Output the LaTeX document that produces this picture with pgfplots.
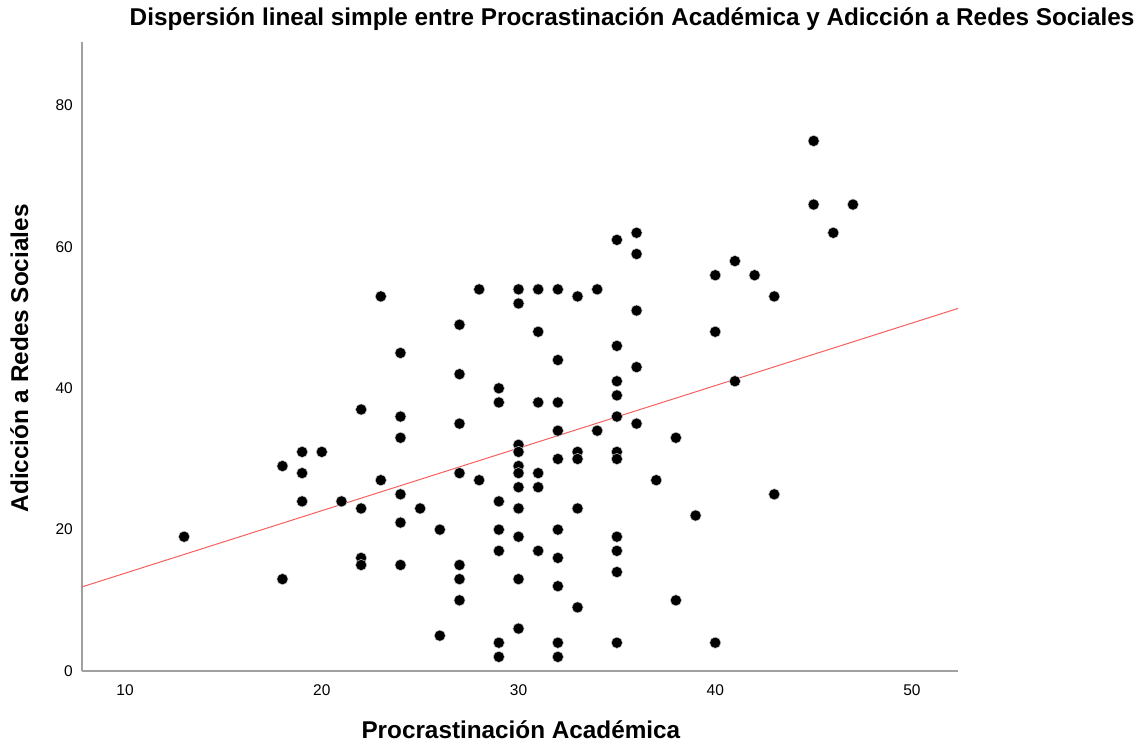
\documentclass[border=0pt]{standalone}
\usepackage{pgfplots}
\pgfplotsset{compat=1.18}
\usepackage{pgfplotstable}
\usepackage{fontspec}
\setmainfont{Liberation Sans}
\definecolor{axisgray}{RGB}{160,160,160}
\definecolor{fitred}{RGB}{245,95,95}
\pgfplotstableread{
x y
13 19
18 29
18 13
19 31
19 28
19 24
20 31
21 24
22 37
22 23
22 16
22 15
23 53
23 27
24 45
24 36
24 33
24 25
24 21
24 15
25 23
26 20
26 5
27 49
27 42
27 35
27 28
27 15
27 13
27 10
28 54
28 27
29 40
29 38
29 24
29 20
29 17
29 4
29 2
30 54
30 52
30 32
30 31
30 29
30 28
30 26
30 23
30 19
30 13
30 6
31 54
31 48
31 38
31 28
31 26
31 17
32 54
32 44
32 38
32 34
32 30
32 20
32 16
32 12
32 4
32 2
33 53
33 31
33 30
33 23
33 9
34 54
34 34
35 61
35 46
35 41
35 39
35 36
35 31
35 30
35 19
35 17
35 14
35 4
36 62
36 59
36 51
36 43
36 35
37 27
38 33
38 10
39 22
40 56
40 48
40 4
41 58
41 41
42 56
43 53
43 25
45 75
45 66
46 62
47 66
}\pts
\pgfplotstableread{
x y
7.81 11.9
52.34 51.3
}\fitline
\begin{document}
\begin{tikzpicture}
\useasboundingbox (0,0) rectangle (1145pt,744pt);
\begin{axis}[
  at={(82pt,73pt)}, anchor=south west,
  scale only axis, width=876pt, height=629pt,
  xmin=7.81, xmax=52.34, ymin=0, ymax=89,
  axis x line*=bottom, axis y line*=left,
  axis line style={axisgray, line width=1.4pt, -},
  xtick={10,20,30,40,50}, ytick={0,20,40,60,80},
  major tick length=0pt,
  /pgf/number format/assume math mode=true,
  tick label style={font=\fontsize{15.5}{17}\selectfont, inner sep=0pt},
  xticklabel style={anchor=center, yshift=-19pt},
  yticklabel style={anchor=east, xshift=-9pt},
  title={Dispersión lineal simple entre Procrastinación Académica y Adicción a Redes Sociales},
  title style={font=\bfseries\fontsize{24.3}{26}\selectfont, at={(rel axis cs:0.628,1.0159)}, anchor=base, inner sep=0pt},
  xlabel={Procrastinación Académica},
  xlabel style={font=\bfseries\fontsize{24.3}{26}\selectfont, at={(rel axis cs:0.501,-0.107)}, anchor=base, inner sep=0pt},
  ylabel={Adicción a Redes Sociales},
  ylabel style={font=\bfseries\fontsize{24.3}{26}\selectfont, at={(rel axis cs:-0.0616,0.497)}, anchor=base, inner sep=0pt},
  clip=false,
]
\addplot[fitred, line width=1pt] table[x=x,y=y] {\fitline};
\addplot[only marks, mark=*, mark size=5.6pt, mark options={fill=black, draw=black!20, line width=0.5pt}] table[x=x,y=y] {\pts};
\end{axis}
\end{tikzpicture}
\end{document}
